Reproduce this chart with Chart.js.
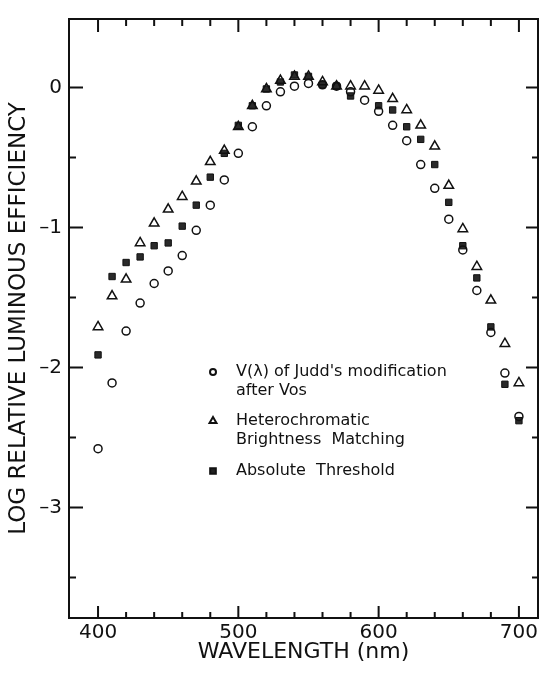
<!DOCTYPE html>
<html>
<head>
<meta charset="utf-8">
<title>Log relative luminous efficiency</title>
<script src="https://cdn.jsdelivr.net/npm/chart.js@4.4.1/dist/chart.umd.min.js"></script>
<style>
  html, body { margin: 0; padding: 0; background: #fff; }
  canvas { display: block; }
</style>
</head>
<body>
<canvas id="lumChart" width="545" height="673"></canvas>
<script>
// wavelength (nm)
const wavelengths = [400, 410, 420, 430, 440, 450, 460, 470, 480, 490, 500,
  510, 520, 530, 540, 550, 560, 570, 580, 590, 600,
  610, 620, 630, 640, 650, 660, 670, 680, 690, 700];

// V(lambda), Judd's modification after Vos (open circles)
const juddVos = [-2.58, -2.11, -1.74, -1.54, -1.40, -1.31, -1.20, -1.02, -0.84, -0.66, -0.47,
  -0.28, -0.13, -0.03, 0.01, 0.03, 0.02, 0.01, -0.03, -0.09, -0.17,
  -0.27, -0.38, -0.55, -0.72, -0.94, -1.16, -1.45, -1.75, -2.04, -2.35];

// heterochromatic brightness matching (open triangles)
const brightnessMatch = [-1.71, -1.49, -1.37, -1.11, -0.97, -0.87, -0.78, -0.67, -0.53, -0.45, -0.28,
  -0.13, -0.01, 0.05, 0.08, 0.08, 0.04, 0.01, 0.01, 0.01, -0.02,
  -0.08, -0.16, -0.27, -0.42, -0.70, -1.01, -1.28, -1.52, -1.83, -2.11];

// absolute threshold (filled squares), no mark seen at 590 nm
const absThreshold = [-1.91, -1.35, -1.25, -1.21, -1.13, -1.11, -0.99, -0.84, -0.64, -0.47, -0.27,
  -0.13, -0.01, 0.04, 0.09, 0.08, 0.02, 0.01, -0.06, null, -0.13,
  -0.16, -0.28, -0.37, -0.55, -0.82, -1.13, -1.36, -1.71, -2.12, -2.38];

const xTickValues = [400, 500, 600, 700];
const yTickValues = [0, -1, -2, -3];
const yTickLabels = ['0', '\u20131', '\u20132', '\u20133'];

const legendLines = [
  ['V(\u03bb) of Judd\'s modification', 'after Vos'],
  ['Heterochromatic', 'Brightness  Matching'],
  ['Absolute  Threshold']
];

const ink = '#111';
const font = 'DejaVu Sans';

function toPoints(vals) {
  return wavelengths.map((w, i) => ({ x: w, y: vals[i] }));
}

// frame, inward ticks on all four sides, legend inside the plot
const frameAndLegend = {
  id: 'frameAndLegend',
  afterDraw(chart) {
    const { ctx, chartArea: a, scales: { x, y } } = chart;
    ctx.save();
    ctx.strokeStyle = ink;
    ctx.lineWidth = 2;
    ctx.strokeRect(a.left, a.top, a.right - a.left, a.bottom - a.top);

    ctx.beginPath();
    for (let w = 400; w <= 700; w += 20) {
      const px = x.getPixelForValue(w);
      const big = w % 100 === 0;
      ctx.moveTo(px, a.bottom); ctx.lineTo(px, a.bottom - (big ? 12 : 6));
      ctx.moveTo(px, a.top); ctx.lineTo(px, a.top + (big ? 13 : 7));
    }
    for (let v = 0; v >= -3.5; v -= 0.5) {
      const py = y.getPixelForValue(v);
      const big = v % 1 === 0;
      ctx.moveTo(a.left, py); ctx.lineTo(a.left + (big ? 14 : 7), py);
      ctx.moveTo(a.right, py); ctx.lineTo(a.right - (big ? 12 : 6), py);
    }
    ctx.stroke();

    // legend
    const mx = a.left + 144;
    const tx = a.left + 167;
    const markers = [
      { pointStyle: 'circle', radius: 3, borderWidth: 1.5 },
      { pointStyle: 'triangle', radius: 4, borderWidth: 1.5 },
      { pointStyle: 'rect', radius: 4, borderWidth: 1 }
    ];
    const rowsY = [[353, 372], [402, 421], [452]];
    ctx.font = '16px "' + font + '"';
    ctx.textBaseline = 'middle';
    ctx.textAlign = 'left';
    legendLines.forEach((lines, i) => {
      ctx.fillStyle = i === 2 ? '#222' : '#fff';
      ctx.strokeStyle = ink;
      Chart.helpers.drawPoint(ctx, Object.assign({ rotation: 0 }, markers[i]), mx, a.top + rowsY[i][0]);
      ctx.fillStyle = ink;
      lines.forEach((t, j) => ctx.fillText(t, tx, a.top + rowsY[i][j]));
    });
    ctx.restore();
  }
};

document.addEventListener('DOMContentLoaded', function() {

  const ctx = document.getElementById('lumChart');
  const lumChart = new Chart(ctx, {
    type: 'scatter',
    data: {
      datasets: [
        {
          label: 'V(\u03bb) of Judd\'s modification after Vos',
          data: toPoints(juddVos),
          pointStyle: 'circle',
          pointRadius: 4,
          pointBorderWidth: 1.5,
          pointBorderColor: ink,
          pointBackgroundColor: 'rgba(255,255,255,0)'
        },
        {
          label: 'Heterochromatic Brightness Matching',
          data: toPoints(brightnessMatch),
          pointStyle: 'triangle',
          pointRadius: 5.5,
          pointBorderWidth: 1.5,
          pointBorderColor: ink,
          pointBackgroundColor: 'rgba(255,255,255,0)'
        },
        {
          label: 'Absolute Threshold',
          data: toPoints(absThreshold),
          pointStyle: 'rect',
          pointRadius: 4.5,
          pointBorderWidth: 1,
          pointBorderColor: ink,
          pointBackgroundColor: '#2a2a2a'
        }
      ]
    },
    options: {
      responsive: false,
      animation: false,
      layout: { padding: { top: 15, right: 6, left: 0, bottom: 0 } },
      plugins: {
        legend: { display: false },
        tooltip: { enabled: false }
      },
      scales: {
        x: {
          type: 'linear',
          min: 379.3,
          max: 713.6,
          afterBuildTicks: (scale) => { scale.ticks = xTickValues.map(v => ({ value: v })); },
          afterFit: (scale) => { scale.height = 55; },
          ticks: {
            color: ink,
            padding: 3,
            maxRotation: 0,
            font: { family: font, size: 20 }
          },
          grid: { display: false, drawTicks: false },
          border: { display: false },
          title: {
            display: true,
            text: 'WAVELENGTH (nm)',
            color: ink,
            font: { family: font, size: 22 },
            padding: { top: 0, bottom: 8 }
          }
        },
        y: {
          min: -3.79,
          max: 0.49,
          afterBuildTicks: (scale) => { scale.ticks = yTickValues.map(v => ({ value: v })); },
          afterFit: (scale) => { scale.width = 69; },
          ticks: {
            color: ink,
            padding: 7,
            font: { family: font, size: 20 },
            callback: (value) => yTickLabels[yTickValues.indexOf(value)]
          },
          grid: { display: false, drawTicks: false },
          border: { display: false },
          title: {
            display: true,
            text: 'LOG RELATIVE LUMINOUS EFFICIENCY',
            color: ink,
            font: { family: font, size: 23 },
            padding: { top: 5, bottom: 0 }
          }
        }
      }
    },
    plugins: [frameAndLegend]
  });

});
</script>
</body>
</html>
